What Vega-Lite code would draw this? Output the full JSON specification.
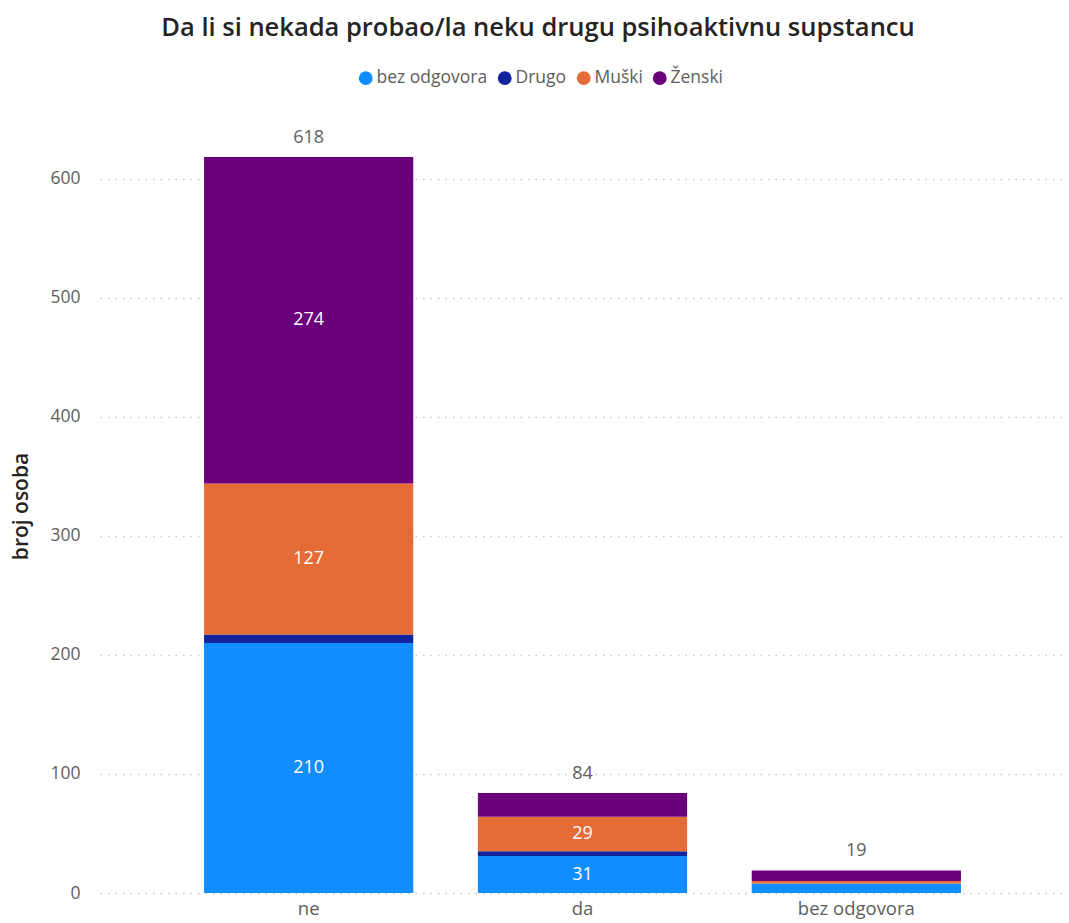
{
  "$schema": "https://vega.github.io/schema/vega-lite/v6.json",
  "autosize": "none",
  "width": 965,
  "height": 774,
  "padding": {"left": 100, "top": 119, "right": 4, "bottom": 30},
  "background": "white",
  "config": {"view": {"stroke": null}},
  "title": {
    "text": "Da li si nekada probao/la neku drugu psihoaktivnu supstancu",
    "anchor": "middle",
    "frame": "bounds",
    "font": "Open Sans",
    "fontSize": 25.5,
    "fontWeight": 600,
    "color": "#252423",
    "offset": 28
  },
  "data": {
    "values": [
      {"odgovor": "ne", "spol": "bez odgovora", "broj": 210},
      {"odgovor": "ne", "spol": "Drugo", "broj": 7},
      {"odgovor": "ne", "spol": "Muški", "broj": 127},
      {"odgovor": "ne", "spol": "Ženski", "broj": 274},
      {"odgovor": "da", "spol": "bez odgovora", "broj": 31},
      {"odgovor": "da", "spol": "Drugo", "broj": 4},
      {"odgovor": "da", "spol": "Muški", "broj": 29},
      {"odgovor": "da", "spol": "Ženski", "broj": 20},
      {"odgovor": "bez odgovora", "spol": "bez odgovora", "broj": 8},
      {"odgovor": "bez odgovora", "spol": "Drugo", "broj": 0},
      {"odgovor": "bez odgovora", "spol": "Muški", "broj": 2},
      {"odgovor": "bez odgovora", "spol": "Ženski", "broj": 9}
    ]
  },
  "transform": [
    {"calculate": "indexof(['bez odgovora','Drugo','Muški','Ženski'], datum.spol)", "as": "redoslijed"}
  ],
  "encoding": {
    "x": {
      "field": "odgovor",
      "type": "nominal",
      "sort": ["ne", "da", "bez odgovora"],
      "scale": {"paddingInner": 0.236, "paddingOuter": 0.38},
      "axis": {
        "title": null,
        "labelAngle": 0,
        "labelFont": "Open Sans",
        "labelFontSize": 18.5,
        "labelColor": "#605E5C",
        "labelPadding": 6,
        "ticks": false,
        "domain": false,
        "grid": false
      }
    }
  },
  "layer": [
    {
      "mark": {"type": "bar"},
      "encoding": {
        "y": {
          "field": "broj",
          "type": "quantitative",
          "stack": "zero",
          "scale": {"domain": [0, 650], "nice": false},
          "axis": {
            "title": "broj osoba",
            "titleFont": "Open Sans",
            "titleFontSize": 21,
            "titleFontWeight": 600,
            "titleColor": "#252423",
            "titlePadding": 18,
            "values": [0, 100, 200, 300, 400, 500, 600],
            "labelFont": "Open Sans",
            "labelFontSize": 17.5,
            "labelColor": "#605E5C",
            "labelPadding": 20,
            "ticks": false,
            "domain": false,
            "grid": true,
            "gridColor": "#C8C8C8",
            "gridDash": [1.5, 6],
            "gridWidth": 1.5
          }
        },
        "color": {
          "field": "spol",
          "type": "nominal",
          "scale": {
            "domain": ["bez odgovora", "Drugo", "Muški", "Ženski"],
            "range": ["#118DFF", "#12239E", "#E66C37", "#6B007B"]
          },
          "legend": {
            "title": null,
            "orient": "none",
            "legendX": 257,
            "legendY": -50,
            "direction": "horizontal",
            "symbolType": "circle",
            "symbolSize": 190,
            "symbolStrokeWidth": 0,
            "symbolOpacity": 1,
            "labelFont": "Open Sans",
            "labelFontSize": 17.5,
            "labelColor": "#605E5C",
            "labelOffset": 2,
            "columnPadding": 8
          }
        },
        "order": {"field": "redoslijed", "type": "quantitative", "sort": "ascending"}
      }
    },
    {
      "transform": [
        {"stack": "broj", "groupby": ["odgovor"], "sort": [{"field": "redoslijed", "order": "ascending"}], "as": ["y0", "y1"]},
        {"calculate": "(datum.y0 + datum.y1) / 2", "as": "sredina"},
        {"filter": "datum.broj >= 25"}
      ],
      "mark": {"type": "text", "color": "white", "font": "Open Sans", "fontSize": 18, "baseline": "middle"},
      "encoding": {
        "y": {"field": "sredina", "type": "quantitative"},
        "text": {"field": "broj", "type": "quantitative"}
      }
    },
    {
      "mark": {"type": "text", "color": "#605E5C", "font": "Open Sans", "fontSize": 18, "baseline": "bottom", "dy": -10},
      "encoding": {
        "y": {"aggregate": "sum", "field": "broj", "type": "quantitative"},
        "text": {"aggregate": "sum", "field": "broj", "type": "quantitative"}
      }
    }
  ]
}
